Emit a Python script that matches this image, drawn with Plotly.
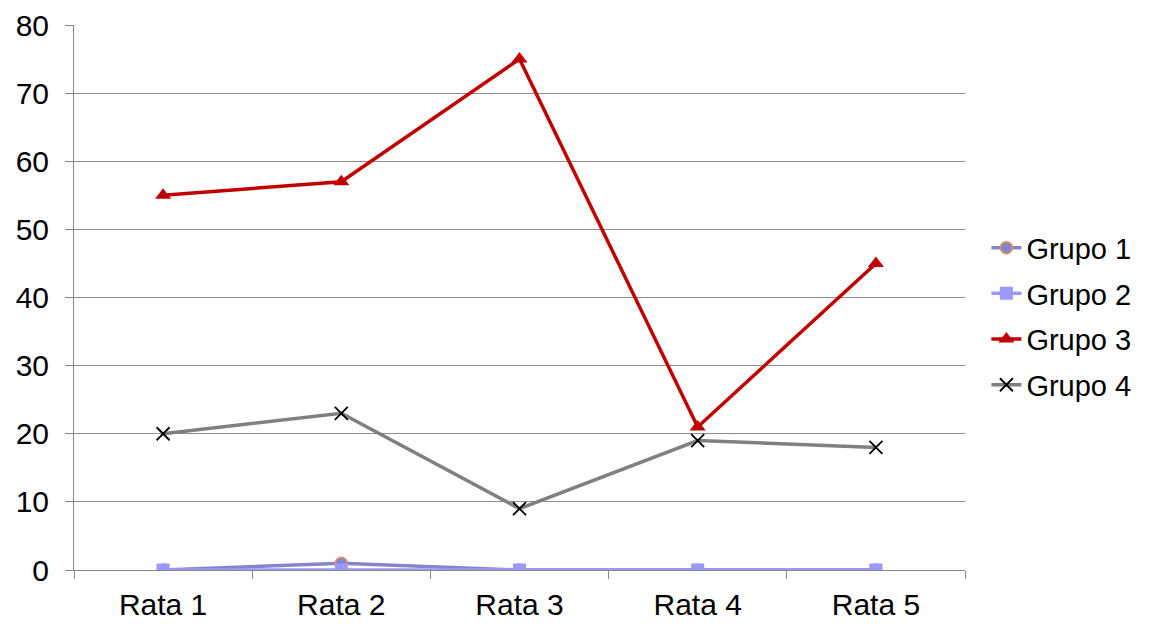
import plotly.graph_objects as go

categories = ["Rata 1", "Rata 2", "Rata 3", "Rata 4", "Rata 5"]
grupo1 = [0, 1, 0, 0, 0]
grupo2 = [0, 0, 0, 0, 0]
grupo3 = [55, 57, 75, 21, 45]
grupo4 = [20, 23, 9, 19, 18]
y_ticks = [0, 10, 20, 30, 40, 50, 60, 70, 80]

fig = go.Figure()
fig.add_trace(go.Scatter(x=categories, y=grupo1, name="Grupo 1", mode="lines+markers",
                         legendgroup="g1",
                         line=dict(color="#8684cc", width=3.5),
                         marker=dict(symbol="circle", size=12, color="#8684cc",
                                     line=dict(color="#e0965a", width=1.5))))
fig.add_trace(go.Scatter(x=categories, y=grupo2, name="Grupo 2", mode="lines+markers",
                         legendgroup="g2",
                         line=dict(color="#9999ff", width=3.5),
                         marker=dict(symbol="square", size=13, color="#9999ff")))
fig.add_trace(go.Scatter(x=categories, y=grupo3, name="Grupo 3", mode="lines+markers",
                         legendgroup="g3",
                         line=dict(color="#c00000", width=3.5),
                         marker=dict(symbol="triangle-up", size=14, color="#c00000")))
fig.add_trace(go.Scatter(x=categories, y=grupo4, name="Grupo 4", mode="lines+markers",
                         legendgroup="g4",
                         line=dict(color="#808080", width=3.5),
                         marker=dict(symbol="x-thin", size=13, color="#000000",
                                     line=dict(color="#000000", width=1.8))))

# The page body adds an 8px offset; the figure is sized to compensate.
fig.update_layout(
    width=1143, height=616,
    paper_bgcolor="white", plot_bgcolor="white",
    margin=dict(l=66, r=186, t=17, b=54),
    font=dict(family="Liberation Sans, Arial, sans-serif", size=30, color="#000000"),
    legend=dict(x=1.024, y=0.638, yanchor="top", xanchor="left",
                font=dict(size=29), tracegroupgap=5, itemwidth=30),
    showlegend=True,
)
fig.update_xaxes(showline=True, linecolor="#888888", linewidth=1,
                 ticks="outside", tickson="boundaries", ticklen=8, tickcolor="#888888",
                 showgrid=False, range=[-0.5, 4.5], automargin=False,
                 ticklabelstandoff=8)
fig.update_yaxes(range=[0, 80], tickvals=y_ticks, showline=True, linecolor="#888888",
                 linewidth=1, ticks="outside", ticklen=8, tickcolor="#888888",
                 showgrid=True, gridcolor="#8c8c8c", gridwidth=1, zeroline=False,
                 automargin=False, ticklabelstandoff=10)

fig.write_html("out.html")
